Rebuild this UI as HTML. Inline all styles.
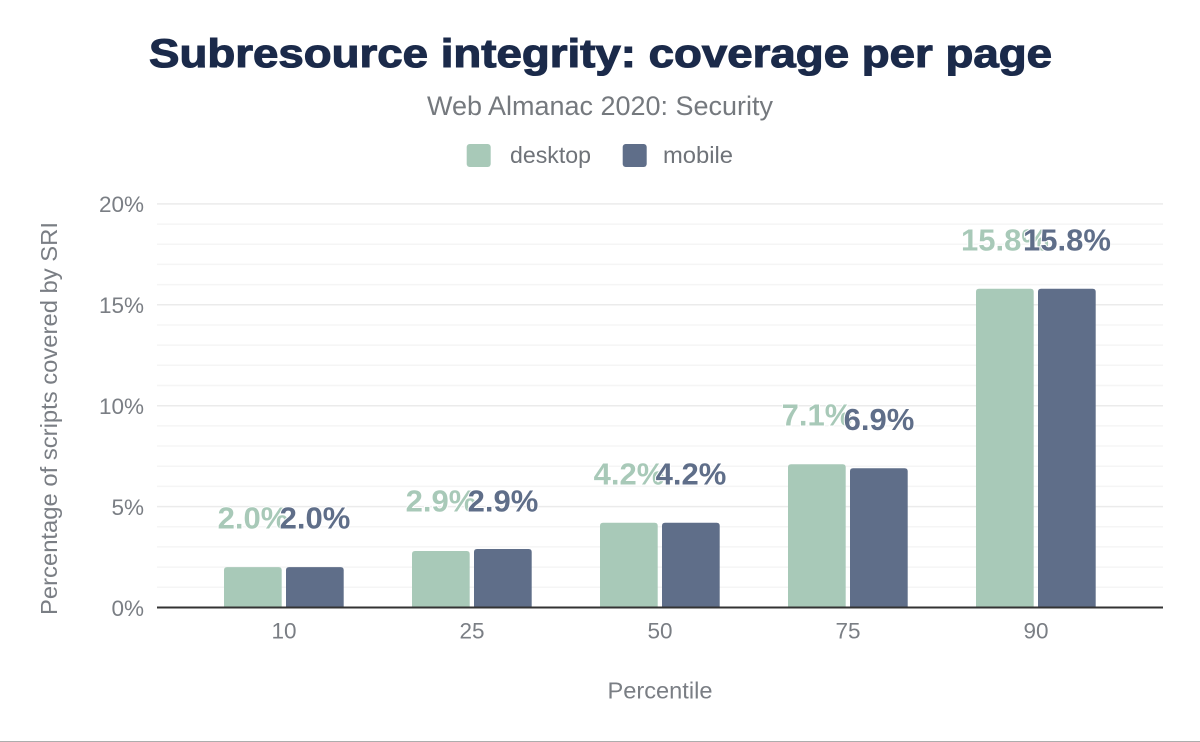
<!DOCTYPE html>
<html><head><meta charset="utf-8"><style>
html,body{margin:0;padding:0;background:#fff;}
svg{display:block;}
</style></head><body>
<svg width="1200" height="742" viewBox="0 0 1200 742" xmlns="http://www.w3.org/2000/svg" font-family="'Liberation Sans', Arial, sans-serif">
<rect width="1200" height="742" fill="#fff"/>
<!-- minor gridlines -->
<g stroke="#f5f5f5" stroke-width="1.5">
<line x1="157" x2="1163" y1="587.3" y2="587.3"/><line x1="157" x2="1163" y1="567.1" y2="567.1"/><line x1="157" x2="1163" y1="546.9" y2="546.9"/><line x1="157" x2="1163" y1="526.8" y2="526.8"/>
<line x1="157" x2="1163" y1="486.4" y2="486.4"/><line x1="157" x2="1163" y1="466.2" y2="466.2"/><line x1="157" x2="1163" y1="446.0" y2="446.0"/><line x1="157" x2="1163" y1="425.9" y2="425.9"/>
<line x1="157" x2="1163" y1="385.5" y2="385.5"/><line x1="157" x2="1163" y1="365.3" y2="365.3"/><line x1="157" x2="1163" y1="345.1" y2="345.1"/><line x1="157" x2="1163" y1="325.0" y2="325.0"/>
<line x1="157" x2="1163" y1="284.6" y2="284.6"/><line x1="157" x2="1163" y1="264.4" y2="264.4"/><line x1="157" x2="1163" y1="244.2" y2="244.2"/><line x1="157" x2="1163" y1="224.1" y2="224.1"/>
</g>
<!-- major gridlines -->
<g stroke="#ebebeb" stroke-width="1.5">
<line x1="157" x2="1163" y1="506.6" y2="506.6"/><line x1="157" x2="1163" y1="405.7" y2="405.7"/><line x1="157" x2="1163" y1="304.8" y2="304.8"/><line x1="157" x2="1163" y1="203.9" y2="203.9"/>
</g>
<!-- title -->
<text x="600.5" y="67" text-anchor="middle" font-size="40" font-weight="bold" fill="#1b2a4a" stroke="#1b2a4a" stroke-width="1.1" textLength="903" lengthAdjust="spacingAndGlyphs">Subresource integrity: coverage per page</text>
<text x="600" y="115" text-anchor="middle" font-size="27" fill="#75797e" textLength="346" lengthAdjust="spacingAndGlyphs">Web Almanac 2020: Security</text>
<!-- legend -->
<rect x="466.7" y="144" width="24" height="23" rx="3" fill="#a8c9b8"/>
<text x="510" y="163" font-size="23" fill="#6f7379" textLength="81" lengthAdjust="spacingAndGlyphs">desktop</text>
<rect x="622.7" y="144" width="24" height="23" rx="3" fill="#5f6e89"/>
<text x="663" y="163" font-size="23" fill="#6f7379" textLength="70" lengthAdjust="spacingAndGlyphs">mobile</text>
<!-- y tick labels -->
<g font-size="22.5" fill="#7a7e84" text-anchor="end">
<text x="144" y="212">20%</text>
<text x="144" y="313">15%</text>
<text x="144" y="414">10%</text>
<text x="144" y="515">5%</text>
<text x="144" y="616">0%</text>
</g>
<!-- y axis title -->
<text transform="translate(57,418.5) rotate(-90)" text-anchor="middle" font-size="23" fill="#7a7e84" textLength="393" lengthAdjust="spacingAndGlyphs">Percentage of scripts covered by SRI</text>
<!-- bars desktop -->
<g fill="#a8c9b8">
<path d="M224 607.5 V570.1 Q224 567.1 227 567.1 H278.7 Q281.7 567.1 281.7 570.1 V607.5 Z"/>
<path d="M412 607.5 V554 Q412 551 415 551 H466.7 Q469.7 551 469.7 554 V607.5 Z"/>
<path d="M600 607.5 V525.7 Q600 522.7 603 522.7 H654.7 Q657.7 522.7 657.7 525.7 V607.5 Z"/>
<path d="M788 607.5 V467.2 Q788 464.2 791 464.2 H842.7 Q845.7 464.2 845.7 467.2 V607.5 Z"/>
<path d="M976 607.5 V291.7 Q976 288.7 979 288.7 H1030.7 Q1033.7 288.7 1033.7 291.7 V607.5 Z"/>
</g>
<!-- bars mobile -->
<g fill="#5f6e89">
<path d="M286 607.5 V570.1 Q286 567.1 289 567.1 H340.7 Q343.7 567.1 343.7 570.1 V607.5 Z"/>
<path d="M474 607.5 V552 Q474 549 477 549 H528.7 Q531.7 549 531.7 552 V607.5 Z"/>
<path d="M662 607.5 V525.7 Q662 522.7 665 522.7 H716.7 Q719.7 522.7 719.7 525.7 V607.5 Z"/>
<path d="M850 607.5 V471.3 Q850 468.3 853 468.3 H904.7 Q907.7 468.3 907.7 471.3 V607.5 Z"/>
<path d="M1038 607.5 V291.7 Q1038 288.7 1041 288.7 H1092.7 Q1095.7 288.7 1095.7 291.7 V607.5 Z"/>
</g>
<!-- axis -->
<line x1="157" x2="1163" y1="607.5" y2="607.5" stroke="#333" stroke-width="2"/>
<!-- labels -->
<g font-size="31" font-weight="bold" text-anchor="middle" stroke="#fff" stroke-width="2" paint-order="stroke">
<text x="253" y="528.5" fill="#a8c9b8">2.0%</text>
<text x="315" y="528.5" fill="#5f6e89">2.0%</text>
<text x="441" y="511.5" fill="#a8c9b8">2.9%</text>
<text x="503" y="511.5" fill="#5f6e89">2.9%</text>
<text x="629" y="484.7" fill="#a8c9b8">4.2%</text>
<text x="691" y="484.7" fill="#5f6e89">4.2%</text>
<text x="817" y="425.5" fill="#a8c9b8">7.1%</text>
<text x="879" y="430" fill="#5f6e89">6.9%</text>
<text x="1005" y="250.7" fill="#a8c9b8">15.8%</text>
<text x="1067" y="250.7" fill="#5f6e89">15.8%</text>
</g>
<!-- x tick labels -->
<g font-size="22.5" fill="#7a7e84" text-anchor="middle">
<text x="284" y="638.5">10</text>
<text x="472" y="638.5">25</text>
<text x="660" y="638.5">50</text>
<text x="848" y="638.5">75</text>
<text x="1036" y="638.5">90</text>
</g>
<text x="660" y="698.3" text-anchor="middle" font-size="23" fill="#7a7e84" textLength="105" lengthAdjust="spacingAndGlyphs">Percentile</text>
<!-- bottom border -->
<line x1="0" x2="1200" y1="741.5" y2="741.5" stroke="#adadad" stroke-width="1"/>
</svg>
</body></html>
